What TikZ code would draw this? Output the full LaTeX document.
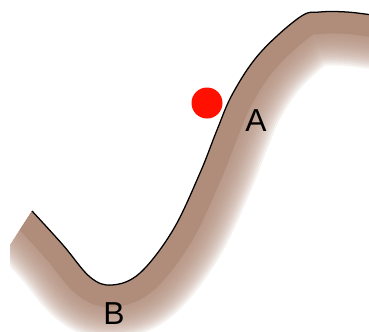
\documentclass[tikz,border=0pt]{standalone}
\usepackage{fontspec}
\setsansfont{Liberation Sans}
\usepackage{xcolor}
\definecolor{soil}{RGB}{176,140,122}
\definecolor{ball}{RGB}{255,16,0}

\begin{document}
\begin{tikzpicture}[x=0.025cm,y=-0.025cm,font=\sffamily\fontsize{22.6}{26}\selectfont]
  \useasboundingbox (0,0) rectangle (369,331);
  \def\slope{plot[smooth,tension=0.6] coordinates{(32,211) (63,245) (90,277) (112,285)
     (140,273) (173,230) (200,173) (217,130) (233,93) (260,53) (300,17) (320,12) (347,12) (372,15)}}
  % ground below the line
  \begin{scope}
    \clip \slope -- (372,340) -- (10,340) -- (10,245) -- cycle;
    \foreach \w in {108,104,...,44}
       \draw[soil,opacity=0.12,line width=\w*0.709pt,line cap=round] \slope;
    \draw[soil,line width=44*0.709pt,line cap=round] \slope;
  \end{scope}
  \draw[line width=0.9pt] \slope;
  \fill[ball] (207,103) circle (15.5);
  \node (a) at (256,121) {A};
  \node (b) at (114,314) {B};
\end{tikzpicture}
\end{document}
